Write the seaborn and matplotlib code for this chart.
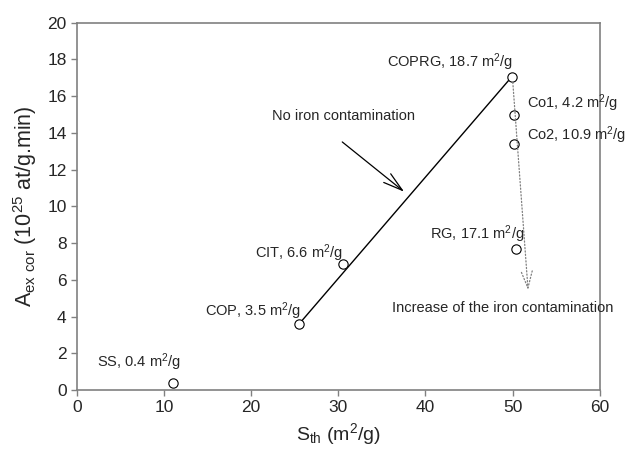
import matplotlib
matplotlib.use("Agg")
import matplotlib.pyplot as plt
import seaborn as sns
import pandas as pd

# samples: specific surface S_th (m2/g) vs corrected exchange activity
samples = ["SS", "COP", "CIT", "COPRG", "Co1", "Co2", "RG"]
s_th = [11.0, 25.5, 30.5, 49.9, 50.2, 50.2, 50.4]
a_ex = [0.4, 3.6, 6.85, 17.05, 14.95, 13.4, 7.7]
bet = ["0.4", "3.5", "6.6", "18.7", "4.2", "10.9", "17.1"]

# no-contamination trend line (COP -> COPRG)
line_x = [25.5, 49.9]
line_y = [3.6, 17.05]

df = pd.DataFrame({"sample": samples, "S_th": s_th, "A_ex": a_ex})

sns.set_style("white")
plt.rcParams["font.family"] = ["Liberation Sans", "DejaVu Sans"]
plt.rcParams["mathtext.default"] = "regular"

fig = plt.figure(figsize=(6.26, 4.53), dpi=100)
ax = fig.add_axes([0.123, 0.139, 0.835, 0.811])

sns.lineplot(x=line_x, y=line_y, ax=ax, color="black", linewidth=1.0)
sns.scatterplot(data=df, x="S_th", y="A_ex", ax=ax, marker="o", s=45,
                facecolor="white", edgecolor="black", linewidth=0.8, zorder=3)

# point labels
lab_pos = {"SS": (2.3, 1.5, "left"), "COP": (14.7, 4.3, "left"),
           "CIT": (20.4, 7.45, "left"), "COPRG": (50.1, 17.85, "right"),
           "Co1": (51.7, 15.6, "left"), "Co2": (51.7, 13.9, "left"),
           "RG": (40.5, 8.5, "left")}
for name, b in zip(samples, bet):
    x, y, ha = lab_pos[name]
    ax.text(x, y, f"{name}, {b} m$^2$/g", ha=ha, va="center", fontsize=10.5)

ax.annotate("", xy=(37.8, 10.7), xytext=(30.2, 13.6),
            arrowprops=dict(arrowstyle="->,head_length=1.4,head_width=0.4",
                            color="black", lw=0.9))
ax.text(30.6, 14.9, "No iron contamination", ha="center", va="center", fontsize=10.5)

ax.annotate("", xy=(51.8, 5.3), xytext=(50.0, 16.9),
            arrowprops=dict(arrowstyle="->,head_length=1.2,head_width=0.4",
                            color="gray", lw=0.9, linestyle=":"))
ax.text(36.2, 4.45, "Increase of the iron contamination", ha="left", va="center",
        fontsize=10.5, clip_on=False)

ax.set_xlim(0, 60)
ax.set_ylim(0, 20)
ax.set_xticks(range(0, 61, 10))
ax.set_yticks(range(0, 21, 2))
ax.tick_params(axis="both", direction="out", length=4, width=1, color="gray",
               labelsize=12.5, left=True, bottom=True, top=False, right=False)
for sp in ax.spines.values():
    sp.set_color("gray")
    sp.set_linewidth(1.2)

ax.set_xlabel("S$_{th}$ (m$^2$/g)", fontsize=14)
ax.set_ylabel("A$_{ex\\ cor}$ (10$^{25}$ at/g.min)", fontsize=15.5, labelpad=6)

fig.savefig("out.png", dpi=100)
